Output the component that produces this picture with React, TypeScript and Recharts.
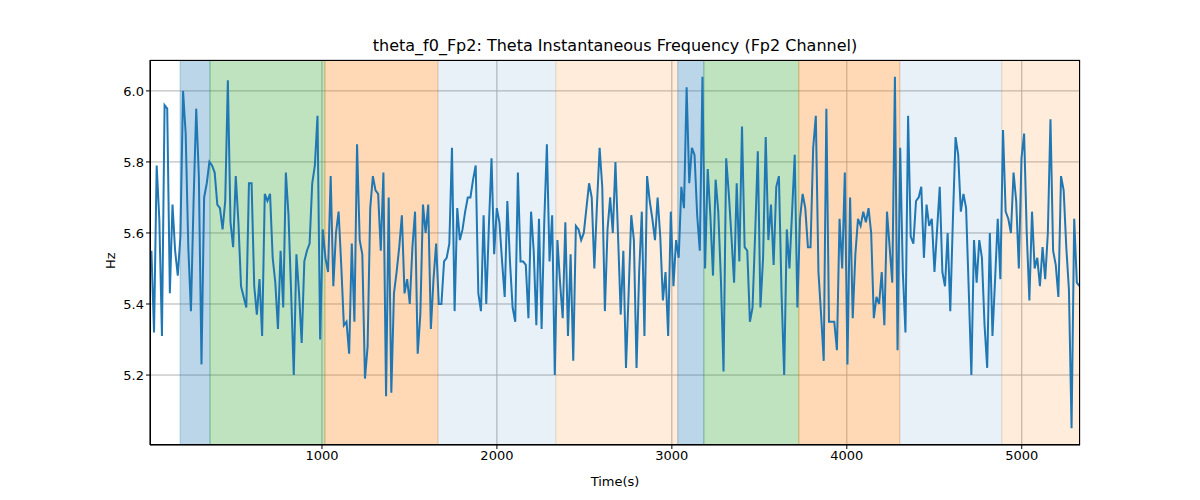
import { LineChart, Line, XAxis, YAxis, CartesianGrid, ReferenceArea } from 'recharts'

const hz = [
  5.55, 5.32, 5.79, 5.64, 5.31, 5.96, 5.95, 5.43, 5.68, 5.55, 5.48, 5.59, 6.0, 5.88, 5.56, 5.38, 5.69, 5.95, 5.76, 5.23,
  5.70, 5.74, 5.80, 5.79, 5.77, 5.68, 5.67, 5.61, 5.69, 6.03, 5.63, 5.56, 5.76, 5.63, 5.45, 5.42, 5.39, 5.74, 5.74, 5.45,
  5.37, 5.47, 5.31, 5.71, 5.69, 5.71, 5.53, 5.46, 5.33, 5.55, 5.39, 5.77, 5.65, 5.43, 5.20, 5.54, 5.43, 5.29, 5.52, 5.55,
  5.57, 5.74, 5.79, 5.93, 5.30, 5.61, 5.53, 5.49, 5.76, 5.45, 5.60, 5.66, 5.51, 5.34, 5.35, 5.26, 5.57, 5.35, 5.85, 5.58,
  5.54, 5.19, 5.28, 5.67, 5.76, 5.72, 5.71, 5.55, 5.77,
  5.14, 5.70, 5.15, 5.43, 5.49, 5.56, 5.65, 5.43, 5.47, 5.40, 5.56, 5.66, 5.26, 5.37, 5.68, 5.60, 5.68, 5.33, 5.47, 5.57,
  5.40, 5.40, 5.52, 5.53, 5.57, 5.84, 5.38, 5.67, 5.58, 5.61, 5.66, 5.70, 5.70, 5.75, 5.79, 5.43, 5.38, 5.65, 5.40, 5.62,
  5.81, 5.54, 5.67, 5.63, 5.52, 5.42, 5.69, 5.52, 5.39, 5.35, 5.77, 5.52, 5.52, 5.51, 5.36, 5.66, 5.55, 5.34, 5.64, 5.33,
  5.63, 5.85, 5.52, 5.65, 5.20, 5.58, 5.46, 5.36, 5.63, 5.31, 5.54, 5.24, 5.62, 5.61, 5.58, 5.60, 5.67, 5.74, 5.70, 5.50,
  5.68, 5.84, 5.73, 5.38, 5.61, 5.70, 5.60, 5.80,
  5.59, 5.37, 5.55, 5.22, 5.43, 5.65, 5.58, 5.22, 5.49, 5.66, 5.31, 5.76, 5.69, 5.64, 5.58, 5.70, 5.59, 5.41, 5.49, 5.31,
  5.66, 5.45, 5.58, 5.53, 5.73, 5.67, 6.01, 5.74, 5.84, 5.82, 5.65, 5.55, 6.04, 5.50, 5.78, 5.65, 5.48, 5.75, 5.66, 5.47,
  5.21, 5.81, 5.71, 5.59, 5.46, 5.74, 5.52, 5.90, 5.56, 5.55, 5.35, 5.39, 5.60, 5.83, 5.39, 5.53, 5.87, 5.58, 5.68, 5.51,
  5.73, 5.76, 5.43, 5.20, 5.61, 5.50, 5.66, 5.82, 5.39, 5.64, 5.71, 5.67, 5.56, 5.56, 5.84, 5.93, 5.49, 5.37, 5.24, 5.95,
  5.35, 5.35, 5.35, 5.27, 5.64, 5.50, 5.77, 5.23, 5.70,
  5.36, 5.54, 5.64, 5.62, 5.66, 5.63, 5.67, 5.60, 5.36, 5.42, 5.40, 5.49, 5.34, 5.66, 5.56, 5.46, 6.04, 5.27, 5.84, 5.49,
  5.32, 5.93, 5.59, 5.57, 5.69, 5.70, 5.73, 5.53, 5.68, 5.62, 5.64, 5.49, 5.61, 5.73, 5.49, 5.45, 5.60, 5.38, 5.64, 5.87,
  5.82, 5.66, 5.71, 5.67, 5.44, 5.20, 5.58, 5.46, 5.58, 5.53, 5.34, 5.22, 5.60, 5.31, 5.47, 5.64, 5.47, 5.89, 5.66, 5.64,
  5.60, 5.77, 5.69, 5.50, 5.81, 5.88, 5.60, 5.41, 5.66, 5.50, 5.53, 5.45, 5.56, 5.47, 5.60, 5.92, 5.55, 5.51, 5.42, 5.76,
  5.72, 5.56, 5.44, 5.05, 5.64, 5.46, 5.45,
]

const tStart = 25
const tEnd = 5330
const data = hz.map((v, i) => ({ t: tStart + (i * (tEnd - tStart)) / (hz.length - 1), v }))

const spanStarts = [189, 360, 1017, 1663, 2337, 3034, 3183, 3726, 4303, 4886]
const spanEnds = [360, 1017, 1663, 2337, 3034, 3183, 3726, 4303, 4886, 5340]
const spanColors = ['#1f77b4', '#2ca02c', '#ff7f0e', '#1f77b4', '#ff7f0e', '#1f77b4', '#2ca02c', '#ff7f0e', '#1f77b4', '#ff7f0e']
const spanAlpha = [0.3, 0.3, 0.3, 0.1, 0.15, 0.3, 0.3, 0.3, 0.1, 0.15]

const xTicks = [1000, 2000, 3000, 4000, 5000]
const yTicks = [5.2, 5.4, 5.6, 5.8, 6.0]

const font = 'DejaVu Sans, sans-serif'

export default function App() {
  return (
    <div style={{ position: 'fixed', left: 0, top: 0, width: 1200, height: 500, background: '#fff', fontFamily: font }}>
      <div style={{ position: 'absolute', top: 36, left: 150, width: 930, textAlign: 'center', fontSize: 16, color: '#000' }}>
        theta_f0_Fp2: Theta Instantaneous Frequency (Fp2 Channel)
      </div>
      <LineChart width={1200} height={500} data={data} margin={{ top: 60, right: 120, left: 0, bottom: 0 }}>
        {spanStarts.map((s, i) => (
          <ReferenceArea key={i} x1={s} x2={spanEnds[i]} fill={spanColors[i]} fillOpacity={spanAlpha[i]} stroke={spanColors[i]} strokeOpacity={spanAlpha[i]} ifOverflow="hidden" />
        ))}
        <CartesianGrid stroke="#b0b0b0" strokeWidth={1} />
        <XAxis
          dataKey="t"
          type="number"
          domain={[17, 5333]}
          ticks={xTicks}
          allowDataOverflow
          height={55}
          stroke="#000"
          tick={{ fill: '#000', fontSize: 13, fontFamily: font }}
          tickSize={4}
          label={{ value: 'Time(s)', position: 'insideBottom', offset: 14, fill: '#000', fontSize: 13, fontFamily: font }}
        />
        <YAxis
          type="number"
          domain={[5.003, 6.087]}
          ticks={yTicks}
          allowDataOverflow
          width={150}
          stroke="#000"
          tickFormatter={(v: number) => v.toFixed(1)}
          tick={{ fill: '#000', fontSize: 13, fontFamily: font }}
          tickSize={4}
          label={{ value: 'Hz', angle: -90, position: 'insideRight', offset: 40, fill: '#000', fontSize: 13, fontFamily: font }}
        />
        <Line type="linear" dataKey="v" stroke="#1f77b4" strokeWidth={2} dot={false} isAnimationActive={false} />
      </LineChart>
      <div style={{ position: 'absolute', left: 150, top: 60, width: 930, height: 385, border: '1px solid #000', boxSizing: 'border-box', pointerEvents: 'none' }} />
    </div>
  )
}
